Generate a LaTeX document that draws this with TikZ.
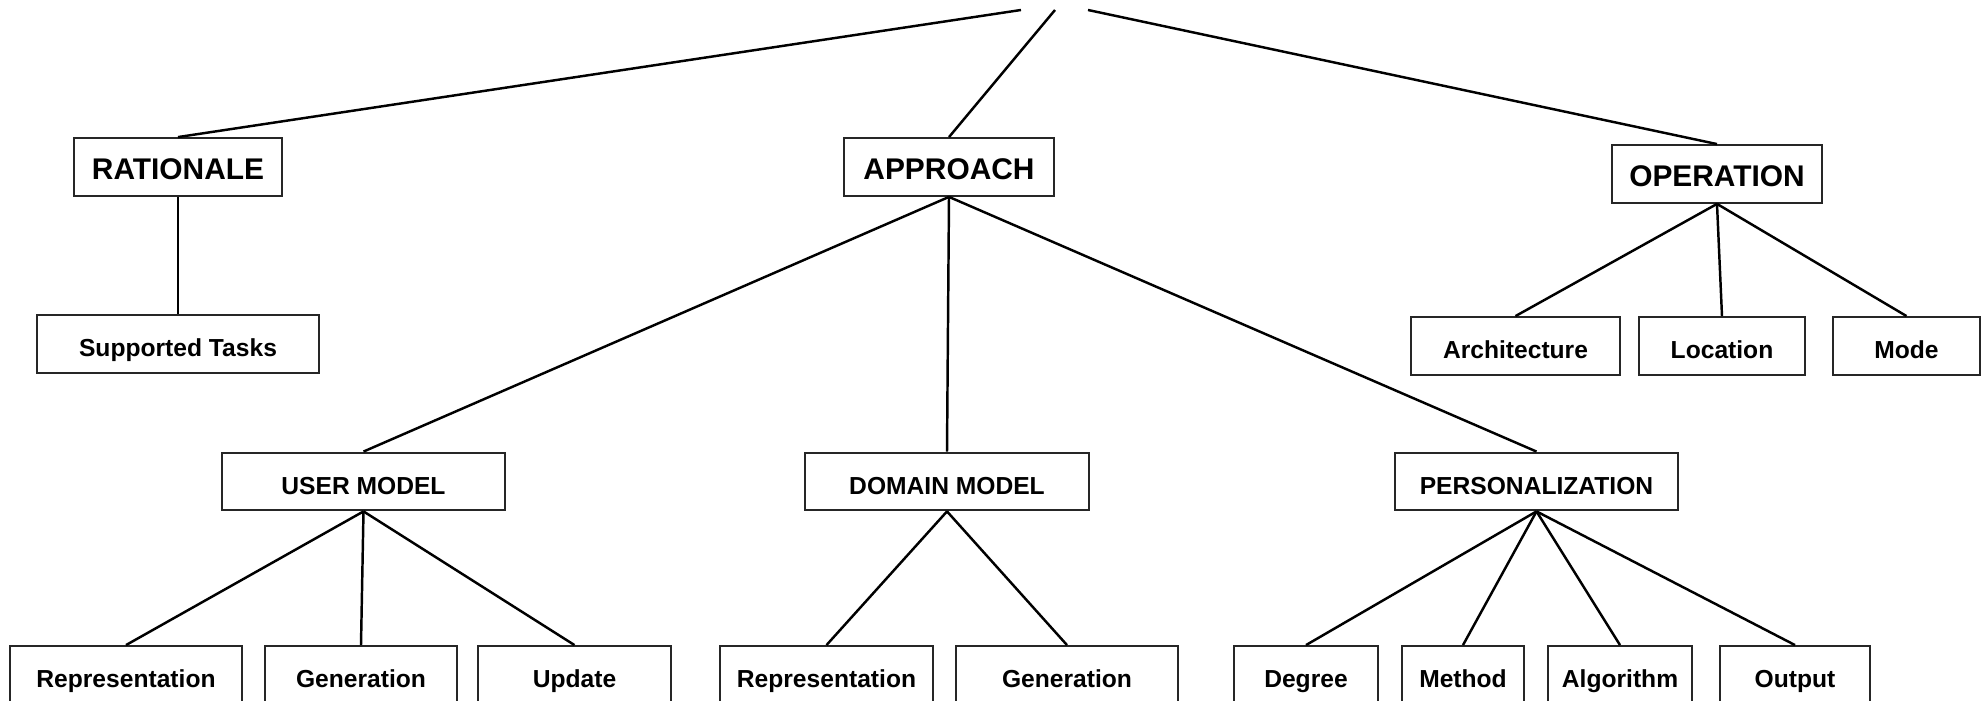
\documentclass[tikz,border=0pt]{standalone}
\usepackage{fontspec}
\setmainfont{Liberation Sans}
\begin{document}
\begin{tikzpicture}[x=0.01cm,y=-0.01cm,
  box/.style={draw=black!85, line width=0.65pt, inner sep=0pt, text height=0.72em, text depth=0pt, minimum height=0.575cm},
  big/.style={box, font=\fontsize{8.5}{10}\selectfont\bfseries},
  small/.style={box, font=\fontsize{7}{8.5}\selectfont\bfseries},
  conn/.style={line width=0.7pt, black}]
\useasboundingbox (0,0) rectangle (1984,701);
\clip (0,0) rectangle (1984,701);
% cut-off root attachment points
\coordinate (rl) at (1021,10);
\coordinate (rc) at (1055,10);
\coordinate (rr) at (1088,10);
% level 1
\node[big, minimum width=2.08cm] (rat) at (178,167) {RATIONALE};
\node[big, minimum width=2.10cm] (app) at (949,167) {APPROACH};
\node[big, minimum width=2.10cm] (ope) at (1717,174) {OPERATION};
% rationale child
\node[small, minimum width=2.82cm] (sup) at (178,344) {Supported Tasks};
% operation children
\node[small, minimum width=2.09cm] (arc) at (1515.5,346) {Architecture};
\node[small, minimum width=1.66cm] (loc) at (1722,346) {Location};
\node[small, minimum width=1.47cm] (mod) at (1906.5,346) {Mode};
% approach children
\node[small, minimum width=2.83cm] (um) at (363.5,481.5) {USER MODEL};
\node[small, minimum width=2.84cm] (dm) at (947,481.5) {DOMAIN MODEL};
\node[small, minimum width=2.83cm] (pe) at (1536.5,481.5) {PERSONALIZATION};
% bottom row
\node[small, minimum width=2.32cm] (ur) at (126,675) {Representation};
\node[small, minimum width=1.92cm] (ug) at (361,675) {Generation};
\node[small, minimum width=1.93cm] (uu) at (574.5,675) {Update};
\node[small, minimum width=2.13cm] (dr) at (826.5,675) {Representation};
\node[small, minimum width=2.22cm] (dg) at (1067,675) {Generation};
\node[small, minimum width=1.44cm] (pd) at (1306,675) {Degree};
\node[small, minimum width=1.22cm] (pm) at (1463,675) {Method};
\node[small, minimum width=1.44cm] (pa) at (1620,675) {Algorithm};
\node[small, minimum width=1.50cm] (po) at (1795,675) {Output};
% connectors
\draw[conn] (rat.north) -- (rl);
\draw[conn] (app.north) -- (rc);
\draw[conn] (ope.north) -- (rr);
\draw[conn] (rat.south) -- (sup.north);
\draw[conn] (ope.south) -- (arc.north);
\draw[conn] (ope.south) -- (loc.north);
\draw[conn] (ope.south) -- (mod.north);
\draw[conn] (app.south) -- (um.north);
\draw[conn] (app.south) -- (dm.north);
\draw[conn] (app.south) -- (pe.north);
\draw[conn] (um.south) -- (ur.north);
\draw[conn] (um.south) -- (ug.north);
\draw[conn] (um.south) -- (uu.north);
\draw[conn] (dm.south) -- (dr.north);
\draw[conn] (dm.south) -- (dg.north);
\draw[conn] (pe.south) -- (pd.north);
\draw[conn] (pe.south) -- (pm.north);
\draw[conn] (pe.south) -- (pa.north);
\draw[conn] (pe.south) -- (po.north);
\end{tikzpicture}
\end{document}
